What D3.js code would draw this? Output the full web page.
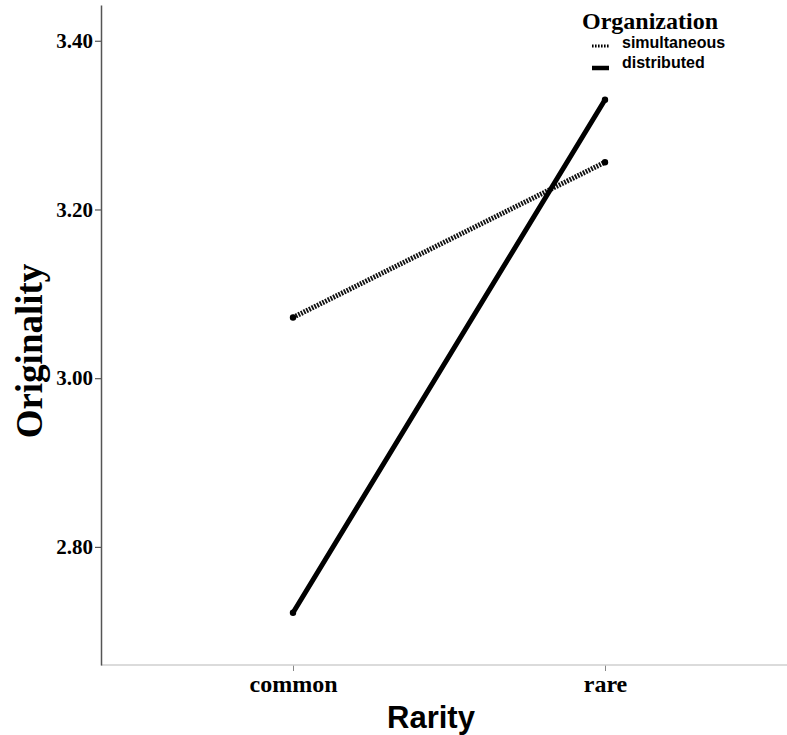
<!DOCTYPE html>
<html>
<head>
<meta charset="utf-8">
<script src="https://cdn.jsdelivr.net/npm/d3@7"></script>
<style>
  body { margin: 0; background: #fff; }
  svg { display: block; }
</style>
</head>
<body>
<div id="chart"></div>
<script>
var svgWidth = 787;
var svgHeight = 735;

// chart values
var categories = ["common", "rare"];
var seriesNames = ["simultaneous", "distributed"];
var simultaneous = [3.072, 3.256];
var distributed = [2.722, 3.330];
var yTicks = [2.80, 3.00, 3.20, 3.40];

var axisLeftX = 101;
var axisBottomY = 665;

var svg = d3.select("#chart")
  .append("svg")
  .attr("width", svgWidth)
  .attr("height", svgHeight);

var xScale = d3.scalePoint()
  .domain(categories)
  .range([293, 605]);

var yScale = d3.scaleLinear()
  .domain([2.66, 3.4424])
  .range([axisBottomY, 5]);

// x axis
var xAxis = svg.append("g")
  .attr("transform", `translate(0, ${axisBottomY})`)
  .call(d3.axisBottom(xScale).tickSize(6).tickSizeOuter(0));
xAxis.select(".domain").remove();
xAxis.append("line")
  .attr("x1", axisLeftX).attr("x2", svgWidth)
  .attr("stroke", "#cfcfcf").attr("stroke-width", 1.5);
xAxis.selectAll(".tick line").attr("stroke", "#888").attr("stroke-width", 1);
xAxis.selectAll(".tick text")
  .attr("y", 27)
  .attr("dy", 0)
  .attr("fill", "#000")
  .style("font-family", "'Liberation Serif', 'Times New Roman', serif")
  .style("font-weight", "bold")
  .style("font-size", "24px");

// y axis
var yAxis = svg.append("g")
  .attr("transform", `translate(${axisLeftX}, 0)`)
  .call(d3.axisLeft(yScale).tickValues(yTicks).tickFormat(d3.format(".2f")).tickSize(6).tickSizeOuter(0));
yAxis.select(".domain").attr("stroke", "#555").attr("stroke-width", 1.5);
yAxis.selectAll(".tick line").attr("stroke", "#555").attr("stroke-width", 1.2);
yAxis.selectAll(".tick text")
  .attr("x", -8)
  .attr("fill", "#000")
  .style("font-family", "'Liberation Serif', 'Times New Roman', serif")
  .style("font-weight", "bold")
  .style("font-size", "21px");

// lines
var line = d3.line()
  .x(function(d, i) { return xScale(categories[i]); })
  .y(function(d) { return yScale(d); });

svg.append("path")
  .datum(simultaneous)
  .attr("d", line)
  .attr("fill", "none")
  .attr("stroke", "#111")
  .attr("stroke-width", 5)
  .attr("stroke-dasharray", "1.8,1.2");

svg.append("path")
  .datum(distributed)
  .attr("d", line)
  .attr("fill", "none")
  .attr("stroke", "#000")
  .attr("stroke-width", 5)
  .attr("stroke-linecap", "round");

// end dots
[simultaneous, distributed].forEach(function(vals) {
  svg.selectAll(null)
    .data(vals)
    .enter()
    .append("circle")
    .attr("cx", function(d, i) { return xScale(categories[i]); })
    .attr("cy", d => yScale(d))
    .attr("r", 3.2)
    .attr("fill", "#000");
});

// axis titles
svg.append("text")
  .attr("transform", "translate(42, 351) rotate(-90)")
  .attr("text-anchor", "middle")
  .style("font-family", "'Liberation Serif', 'Times New Roman', serif")
  .style("font-weight", "bold")
  .style("font-size", "37px")
  .text("Originality");

svg.append("text")
  .attr("x", 431)
  .attr("y", 728)
  .attr("text-anchor", "middle")
  .style("font-family", "'Liberation Sans', Arial, sans-serif")
  .style("font-weight", "bold")
  .style("font-size", "31px")
  .text("Rarity");

// legend
var legend = svg.append("g");
legend.append("text")
  .attr("x", 650)
  .attr("y", 29)
  .attr("text-anchor", "middle")
  .style("font-family", "'Liberation Serif', 'Times New Roman', serif")
  .style("font-weight", "bold")
  .style("font-size", "24px")
  .text("Organization");

var legendRows = legend.selectAll(".row")
  .data(seriesNames)
  .enter()
  .append("g")
  .attr("class", "row")
  .attr("transform", (d, i) => `translate(592, ${47 + i * 20})`);

legendRows.append("line")
  .attr("x1", 0).attr("x2", 17)
  .attr("y1", d => d === "simultaneous" ? -1 : 1)
  .attr("y2", d => d === "simultaneous" ? -1 : 1)
  .attr("stroke", "#000")
  .attr("stroke-width", d => d === "simultaneous" ? 3 : 4.5)
  .attr("stroke-dasharray", d => d === "simultaneous" ? "1.6,1.4" : null);

legendRows.append("text")
  .attr("x", 30)
  .attr("y", 1)
  .style("font-family", "'Liberation Sans', Arial, sans-serif")
  .style("font-weight", "bold")
  .style("font-size", "16px")
  .text(d => d);
</script>
</body>
</html>
